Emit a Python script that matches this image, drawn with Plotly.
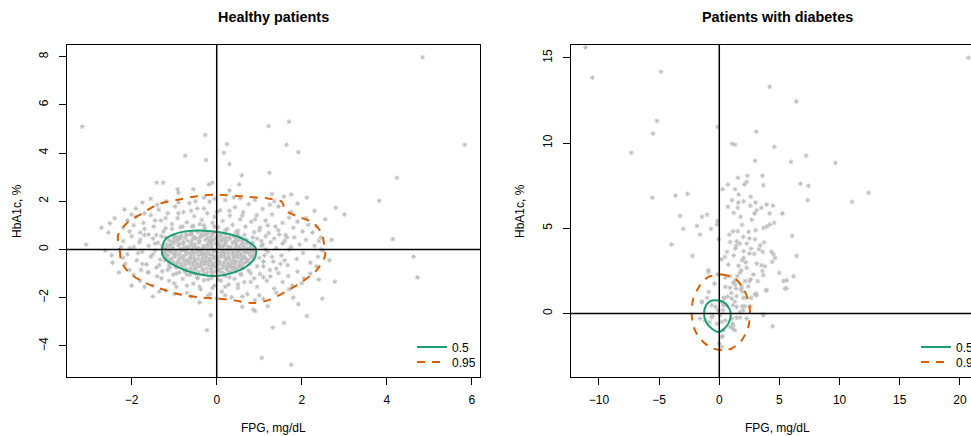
import plotly.graph_objects as go

# ---------------- data ----------------
healthy_points = [
    # outliers
    (4.84, 7.97), (-3.16, 5.09), (1.70, 5.30), (1.22, 5.12), (-0.27, 4.75), (5.83, 4.34),
    (1.64, 4.34), (0.24, 4.37), (1.92, 4.04), (0.17, 4.01), (-0.74, 3.89), (-0.25, 3.71),
    (0.30, 3.54), (1.24, 3.18), (0.59, 3.08), (4.24, 2.97), (-1.41, 2.77), (-1.26, 2.77),
    (0.53, 2.70), (-0.18, 2.70), (-0.10, 2.77), (-0.55, 2.50), (1.75, 2.28), (1.58, 2.19),
    (2.12, 2.15), (3.82, 2.02), (2.80, 1.73), (3.00, 1.45), (-2.17, 1.66), (-2.51, 1.08),
    (-2.71, 0.90), (-3.07, 0.20), (4.14, 0.43), (4.63, -0.30), (4.72, -1.16), (2.78, -1.34),
    (2.48, -2.04), (2.12, -2.76), (1.58, -3.05), (1.32, -3.24), (-0.14, -2.73), (-0.23, -3.35),
    (0.86, -2.49), (1.92, -2.27), (1.06, -4.50), (1.75, -4.78), (-2.47, -0.24),
    # core, first layer
    (-0.72, 0.68), (-0.45, 0.72), (-0.21, 0.66), (-0.05, 0.70), (-0.58, 0.63),
    (-0.95, 0.55), (-0.71, 0.58), (-0.52, 0.51), (-0.33, 0.57), (-0.14, 0.53), (0.06, 0.56), (0.22, 0.49), (-0.85, 0.47),
    (-1.12, 0.38), (-0.90, 0.42), (-0.68, 0.36), (-0.49, 0.44), (-0.27, 0.39), (-0.08, 0.41), (0.12, 0.35), (0.31, 0.43),
    (0.50, 0.37), (-0.60, 0.30), (0.02, 0.30),
    (-1.18, 0.22), (-1.00, 0.27), (-0.79, 0.24), (-0.61, 0.19), (-0.42, 0.28), (-0.22, 0.21), (-0.02, 0.26), (0.18, 0.20),
    (0.37, 0.27), (0.58, 0.22), (0.71, 0.25), (-0.32, 0.15), (0.27, 0.12),
    (-1.22, 0.04), (-1.03, 0.09), (-0.86, 0.02), (-0.67, 0.07), (-0.48, 0.00), (-0.30, 0.08), (-0.12, 0.03), (0.07, 0.06),
    (0.24, -0.01), (0.43, 0.05), (0.62, 0.01), (0.80, 0.07), (-0.95, -0.05), (0.33, 0.10),
    (-1.25, -0.16), (-1.07, -0.12), (-0.88, -0.19), (-0.70, -0.13), (-0.52, -0.18), (-0.35, -0.11), (-0.17, -0.20),
    (0.01, -0.14), (0.19, -0.17), (0.38, -0.10), (0.56, -0.20), (0.74, -0.15), (0.87, -0.22), (-0.60, -0.27),
    (-1.18, -0.36), (-0.99, -0.31), (-0.80, -0.38), (-0.62, -0.33), (-0.43, -0.40), (-0.25, -0.32), (-0.06, -0.37),
    (0.12, -0.30), (0.30, -0.39), (0.49, -0.34), (0.68, -0.38), (0.83, -0.31), (-0.15, -0.45),
    (-1.03, -0.52), (-0.84, -0.58), (-0.66, -0.51), (-0.47, -0.57), (-0.29, -0.53), (-0.10, -0.59), (0.08, -0.52),
    (0.26, -0.56), (0.45, -0.50), (0.64, -0.57), (-0.55, -0.65), (0.15, -0.66),
    (-0.80, -0.74), (-0.61, -0.78), (-0.42, -0.72), (-0.23, -0.79), (-0.04, -0.73), (0.14, -0.77), (0.33, -0.71), (0.47, -0.80),
    (-0.42, -0.93), (-0.22, -0.97), (-0.03, -0.92), (0.16, -0.98), (0.28, -0.90),
    # core, second layer
    (-0.62, 0.62), (-0.37, 0.64), (-0.88, 0.50), (-0.40, 0.50), (-0.03, 0.48), (0.15, 0.46), (-1.05, 0.33), (-0.78, 0.31),
    (-0.17, 0.33), (0.22, 0.30), (0.42, 0.32), (0.62, 0.30), (-1.10, 0.15), (-0.90, 0.17), (-0.70, 0.12), (-0.52, 0.14),
    (-0.12, 0.14), (0.08, 0.16), (0.47, 0.15), (0.64, 0.13), (-1.13, -0.06), (-0.76, -0.04), (-0.57, -0.08), (-0.39, -0.03),
    (-0.21, -0.07), (-0.03, -0.04), (0.15, -0.08), (0.52, -0.06), (0.71, -0.09), (-1.15, -0.25), (-0.97, -0.24),
    (-0.79, -0.28), (-0.42, -0.25), (-0.26, -0.27), (0.09, -0.24), (0.28, -0.28), (0.46, -0.25), (0.65, -0.29),
    (-1.10, -0.45), (-0.90, -0.47), (-0.71, -0.44), (-0.52, -0.46), (-0.34, -0.48), (0.03, -0.46), (0.21, -0.43),
    (0.40, -0.47), (0.58, -0.44), (-0.93, -0.65), (-0.74, -0.63), (-0.37, -0.67), (-0.19, -0.64), (-0.01, -0.69),
    (0.34, -0.63), (0.52, -0.67), (-0.70, -0.86), (-0.51, -0.84), (-0.32, -0.88), (-0.13, -0.85), (0.06, -0.87),
    (0.24, -0.83), (0.40, -0.88),
    # core, third layer
    (-0.83, 0.60), (-0.27, 0.61), (-0.10, 0.63), (0.10, 0.60),
    (-1.00, 0.45), (-0.75, 0.48), (-0.57, 0.43), (-0.22, 0.46), (0.30, 0.50), (0.45, 0.44),
    (-0.95, 0.35), (-0.40, 0.36), (-0.12, 0.37), (0.08, 0.40), (0.21, 0.38), (0.60, 0.38),
    (-1.08, 0.20), (-0.88, 0.23), (-0.52, 0.22), (-0.13, 0.24), (0.05, 0.18), (0.45, 0.24), (0.80, 0.17),
    (-1.17, 0.10), (-0.77, 0.08), (-0.58, 0.05), (-0.21, 0.10), (0.15, 0.10), (0.53, 0.09), (0.72, 0.04), (0.86, -0.02),
    (-1.05, 0.00), (-0.72, -0.01), (-0.35, 0.00), (-0.03, -0.01), (0.33, 0.00), (0.55, -0.02),
    (-1.20, -0.10), (-0.98, -0.14), (-0.62, -0.15), (-0.45, -0.10), (-0.27, -0.15), (-0.09, -0.10), (0.10, -0.12),
    (0.28, -0.14), (0.47, -0.13), (0.65, -0.12), (0.80, -0.10),
    (-1.20, -0.22), (-1.00, -0.20), (-0.72, -0.22), (-0.34, -0.21), (-0.10, -0.25), (0.18, -0.23), (0.37, -0.20),
    (0.57, -0.24), (0.80, -0.26),
    (-1.07, -0.38), (-0.88, -0.35), (-0.52, -0.36), (-0.33, -0.36), (-0.17, -0.38), (0.03, -0.33), (0.21, -0.37),
    (0.40, -0.33), (0.59, -0.37), (0.76, -0.42),
    (-1.12, -0.52), (-0.93, -0.55), (-0.75, -0.50), (-0.56, -0.55), (-0.38, -0.56), (-0.20, -0.52), (-0.02, -0.53),
    (0.17, -0.55), (0.35, -0.52), (0.54, -0.53), (0.70, -0.50),
    (-1.00, -0.62), (-0.83, -0.70), (-0.64, -0.60), (-0.46, -0.70), (-0.28, -0.62), (-0.10, -0.66), (0.06, -0.61),
    (0.25, -0.67), (0.43, -0.60), (0.60, -0.64),
    (-0.72, -0.80), (-0.52, -0.77), (-0.33, -0.80), (-0.14, -0.78), (0.05, -0.80), (0.23, -0.76), (0.42, -0.75), (0.55, -0.72),
    (-0.60, -0.92), (-0.12, -0.95), (0.08, -0.93), (0.33, -0.95), (-0.30, -1.00),
    # core, fourth layer (near the inner contour)
    (-1.00, 0.55), (-0.60, 0.70), (-0.30, 0.75), (0.20, 0.65), (0.40, 0.55), (0.55, 0.48), (0.70, 0.40), (0.85, 0.28),
    (0.90, -0.10), (0.88, -0.40), (0.78, -0.60), (0.60, -0.78), (0.45, -0.92), (0.20, -1.05), (-0.10, -1.05),
    (-0.50, -1.00), (-0.75, -0.92), (-0.95, -0.75), (-1.12, -0.65), (-1.22, -0.45), (-1.28, 0.15), (-1.20, 0.50),
    (-0.44, 0.08), (-0.25, -0.45), (0.00, 0.20), (-0.62, -0.40), (0.35, -0.75), (-0.83, -0.05), (0.50, 0.63), (-0.05, -0.30),
    # between the two contours, first ring
    (-1.45, 0.25), (-1.50, -0.20), (-1.42, 0.60), (-1.35, -0.65), (-1.25, 0.75), (-1.15, -0.85), (-1.05, 0.85),
    (-0.95, -1.00), (-0.80, 0.95), (-0.70, -1.05), (-0.55, 0.98), (-0.45, -1.20), (-0.30, 1.00), (-0.20, -1.25),
    (-0.05, 0.95), (0.10, -1.30), (0.20, 0.80), (0.30, -1.15), (0.45, 0.72), (0.55, -1.02), (0.65, 0.60), (0.75, -0.88),
    (0.85, 0.50), (0.95, -0.70), (1.05, 0.35), (1.10, -0.50), (1.15, 0.00), (1.12, -0.25), (1.08, 0.20),
    # second ring
    (-1.70, 0.85), (-1.80, 0.40), (-1.85, -0.15), (-1.75, -0.60), (-1.60, -0.95), (-1.45, 1.20), (-1.30, -1.20),
    (-1.20, 1.30), (-1.00, -1.40), (-0.90, 1.50), (-0.70, -1.50), (-0.60, 1.60), (-0.40, -1.55), (-0.30, 1.70),
    (-0.10, -1.60), (0.00, 1.55), (0.20, -1.55), (0.30, 1.60), (0.50, -1.45), (0.60, 1.40), (0.80, -1.35), (0.90, 1.25),
    (1.10, -1.15), (1.20, 1.00), (1.40, -0.80), (1.45, 0.80), (1.60, -0.45), (1.65, 0.50), (1.70, 0.00), (1.55, 0.25),
    (1.35, 0.45), (1.30, -0.30), (1.50, -0.60),
    # third ring
    (-2.10, 1.20), (-2.20, 0.90), (-2.25, 0.10), (-2.20, -0.35), (-2.05, -0.85), (-1.70, -1.55), (-1.35, -1.75),
    (-1.00, -1.85), (-0.60, -1.95), (-0.15, -1.85), (0.20, -1.90), (0.60, -1.95), (1.00, -1.90), (1.40, -1.80),
    (1.70, -1.65), (2.00, -1.40), (2.20, -1.00), (2.35, -0.70), (2.45, 0.00), (2.40, 0.35), (2.35, 0.95), (2.10, 1.30),
    (1.75, 1.55), (1.25, 1.85), (0.90, 2.05), (0.40, 2.15), (-0.05, 2.10), (-0.50, 2.00), (-0.90, 1.95), (-1.40, 1.85),
    (-1.70, 1.50), (-2.00, 1.45),
    # between the two contours, upper band
    (-1.90, 1.35), (-1.72, 1.10), (-1.55, 1.42), (-1.48, 0.95), (-1.36, 1.65), (-1.31, 1.20), (-1.20, 0.88), (-1.15, 1.50),
    (-1.05, 1.05), (-0.98, 1.78), (-0.92, 1.30), (-0.85, 0.92), (-0.78, 1.55), (-0.70, 1.12), (-0.64, 1.92), (-0.58, 0.95),
    (-0.53, 1.38), (-0.46, 1.70), (-0.40, 1.05), (-0.35, 1.22), (-0.28, 0.88), (-0.22, 1.50), (-0.17, 1.98), (-0.10, 1.10),
    (-0.05, 1.35), (0.03, 0.92), (0.08, 1.62), (0.14, 1.18), (0.20, 2.05), (0.25, 0.85), (0.31, 1.40), (0.37, 1.02),
    (0.43, 1.75), (0.50, 0.78), (0.55, 1.25), (0.62, 1.55), (0.68, 0.95), (0.75, 1.88), (0.81, 1.15), (0.88, 0.72),
    (0.94, 1.42), (1.02, 0.90), (1.08, 1.68), (1.15, 1.20), (1.22, 0.68), (1.30, 1.45), (1.38, 0.95), (1.45, 1.78),
    (1.55, 1.10), (1.62, 0.60), (1.70, 1.32), (1.80, 0.90), (1.90, 1.15), (2.02, 0.75), (2.15, 1.02), (-2.05, 0.75),
    (-1.80, 0.70), (-1.60, 0.62), (-1.95, 1.00), (-0.30, 2.15), (0.55, 2.12), (-1.20, 2.00), (1.35, 2.00),
    # between the two contours, sides
    (-2.20, 0.35), (-2.10, -0.20), (-2.00, 0.55), (-1.95, 0.10), (-1.88, -0.45), (-1.82, 0.30), (-1.75, -0.10),
    (-1.70, 0.60), (-1.65, -0.62), (-1.60, 0.15), (-1.55, -0.30), (-1.50, 0.45), (-1.45, -0.05), (-1.42, -0.75),
    (-1.38, 0.28), (-1.33, -0.42), (-1.30, 0.55), (-2.15, -0.60), (-1.78, -0.85), (-2.05, 0.05),
    (0.95, 0.45), (1.00, -0.35), (1.05, 0.15), (1.10, -0.70), (1.15, 0.55), (1.20, -0.10), (1.27, 0.30), (1.33, -0.50),
    (1.40, 0.05), (1.47, 0.62), (1.52, -0.25), (1.60, 0.35), (1.67, -0.65), (1.75, 0.10), (1.82, 0.50), (1.88, -0.40),
    (1.95, 0.20), (2.03, -0.15), (2.10, 0.40), (2.20, -0.55), (2.30, 0.15), (2.38, -0.30), (2.45, 0.50), (2.50, -0.05),
    (1.00, 0.80), (1.25, -0.85), (2.25, 0.70),
    # between the two contours, lower band
    (-1.95, -1.05), (-1.80, -1.30), (-1.62, -0.95), (-1.50, -1.50), (-1.40, -1.12), (-1.28, -0.90), (-1.20, -1.70),
    (-1.12, -1.30), (-1.02, -1.05), (-0.95, -1.55), (-0.88, -0.95), (-0.80, -1.22), (-0.70, -1.80), (-0.62, -1.05),
    (-0.55, -1.42), (-0.45, -1.15), (-0.38, -1.65), (-0.30, -1.28), (-0.20, -1.90), (-0.12, -1.18), (-0.05, -1.50),
    (0.05, -1.25), (0.12, -1.75), (0.20, -1.10), (0.28, -1.45), (0.35, -1.98), (0.42, -1.22), (0.50, -1.60),
    (0.58, -1.05), (0.65, -1.35), (0.72, -1.85), (0.80, -0.98), (0.88, -1.20), (0.95, -1.55), (1.02, -1.02),
    (1.10, -2.05), (1.18, -1.30), (1.26, -1.12), (1.35, -1.62), (1.45, -0.98), (1.55, -1.35), (1.68, -1.10),
    (1.78, -1.50), (1.90, -0.92), (2.05, -1.20), (-1.10, -0.75), (0.00, -2.02), (0.90, -2.10),
    # just outside the outer contour
    (-2.55, 0.70), (-2.40, 1.30), (-2.62, -0.05), (-2.45, -0.55), (-2.30, -0.95), (-1.75, 1.95), (-1.55, 2.10),
    (-0.90, 2.35), (0.30, 2.45), (1.30, 2.30), (1.90, 1.90), (2.55, 1.25), (2.70, 0.40), (2.65, -0.45), (2.40, -1.25),
    (1.80, -2.00), (1.20, -2.35), (0.60, -2.38), (-0.40, -2.20), (-1.50, -1.95), (-2.00, -1.50), (-0.92, 2.50),
    (2.30, 1.60), (0.90, -2.55), (-1.90, 1.70),
]

diabetes_points = [
    (-11.11, 15.61), (-10.55, 13.83), (-4.84, 14.18), (20.70, 15.00), (4.19, 13.30), (6.40, 12.44), (-5.18, 11.30),
    (-5.51, 10.56), (-0.14, 10.95), (3.08, 10.66), (1.06, 9.96), (1.31, 9.90), (4.58, 9.78), (-7.31, 9.43),
    (7.21, 9.25), (2.97, 8.96), (5.96, 8.90), (9.65, 8.84), (3.58, 8.08), (2.33, 8.08), (1.56, 7.96), (2.28, 7.72),
    (0.72, 7.57), (2.08, 7.57), (3.66, 7.53), (6.74, 7.61), (7.40, 7.49), (1.31, 7.29), (0.28, 7.29), (12.41, 7.08),
    (-3.63, 6.92), (-2.63, 7.02), (-5.57, 6.79), (1.61, 6.98), (2.61, 6.85), (1.06, 6.65), (7.35, 6.65), (11.04, 6.55),
    (2.03, 6.59), (3.02, 6.51), (1.58, 6.51), (0.72, 6.26), (1.53, 6.20), (3.93, 6.39), (4.46, 6.32), (2.58, 6.32),
    (3.11, 6.06), (2.92, 5.87), (5.25, 5.87), (4.19, 5.87), (1.77, 5.67), (-1.02, 5.80), (-1.44, 5.67), (-3.26, 5.73),
    (-0.14, 5.43), (-0.19, 5.22), (4.55, 5.32), (4.19, 5.22), (3.93, 5.09), (3.66, 5.02), (-1.85, 5.14), (-0.69, 4.97),
    (-2.99, 4.97), (1.14, 4.83), (1.53, 4.83), (2.44, 4.79), (3.02, 4.89), (0.83, 4.63), (-1.60, 4.63), (6.05, 4.56),
    (2.00, 4.50), (-0.05, 4.36), (2.97, 4.36), (1.44, 4.24), (3.72, 4.18), (-3.96, 4.05), (1.39, 3.97), (2.28, 4.10),
    (1.33, 3.81), (2.64, 3.81), (3.30, 3.77), (2.03, 3.66), (3.61, 3.62), (4.33, 3.62), (2.50, 3.52), (0.64, 3.62),
    (4.50, 3.48), (-2.24, 3.38), (6.43, 3.38), (0.47, 3.32), (2.03, 3.26), (4.64, 3.26), (0.17, 3.17), (1.89, 3.13),
    (4.39, 3.03), (3.11, 2.93), (0.75, 2.87), (3.50, 2.83), (3.80, 2.77), (2.28, 2.68), (1.83, 2.54), (3.58, 2.50),
    (-0.91, 2.54), (1.72, 2.40), (4.99, 2.38), (2.83, 2.29), (3.66, 2.25), (6.18, 2.19), (-0.14, 2.29), (1.31, 1.95),
    (2.14, 1.91), (5.35, 1.91), (1.17, 1.81), (1.31, 1.70), (2.50, 1.91), (-0.39, 1.76), (0.50, 1.57), (0.89, 1.51),
    (1.39, 1.47), (5.57, 1.47), (3.88, 1.37), (-0.88, 1.27), (1.94, 1.27), (2.97, 1.11), (3.05, 1.17), (1.42, 1.02),
    (0.39, 0.92), (1.03, 0.88), (2.00, 0.92), (2.22, 0.92), (-1.00, 0.92), (2.64, 0.92), (-1.44, 0.68), (0.25, 0.68),
    (1.14, 0.49), (1.44, 0.39), (1.91, 0.43), (2.14, 0.43), (2.58, 0.43), (1.72, 0.09), (3.66, -0.04), (0.06, -0.10),
    (-0.63, -0.24), (-1.60, -0.29), (1.44, -0.24), (2.28, -0.29), (1.11, -0.59), (0.89, -0.78), (4.44, -0.74),
    (1.11, -0.88), (0.28, -1.33), (0.00, -1.76),
    (-0.91, 2.44), (-0.63, 0.49), (-1.46, 0.68), (-0.55, -0.10), (-1.19, -0.39), (-0.08, 0.19), (0.33, 0.49),
    (0.20, -0.49), (0.33, -0.98), (0.20, -1.37), (0.20, -1.96), (1.03, -0.29), (1.72, -0.24), (1.16, -0.69),
    (1.31, -0.98), (1.86, 1.56), (3.11, 1.07), (3.66, -0.10), (3.94, 1.37), (5.46, 1.47), (5.60, 1.95),
    (0.50, 2.10), (0.90, 2.20), (1.60, 2.80), (2.20, 3.00), (1.00, 1.20), (1.80, 1.40), (2.40, 1.60), (0.60, 0.50),
    (1.30, 0.70), (2.00, 0.20), (0.30, 0.20), (-0.30, 0.40), (-0.80, -0.50), (0.50, -0.40), (0.70, 1.00), (1.50, 2.20),
    (2.60, 2.00), (3.20, 1.90), (2.90, 3.50), (1.20, 3.40), (1.70, 4.10), (2.50, 4.40), (3.40, 4.00), (0.90, 4.20),
    (1.90, 5.20), (2.70, 5.50), (3.50, 6.20), (1.20, 5.90), (0.40, 0.90), (-0.20, -0.60),
]

healthy_fpg = [p[0] for p in healthy_points]
healthy_hba1c = [p[1] for p in healthy_points]
diabetes_fpg = [p[0] for p in diabetes_points]
diabetes_hba1c = [p[1] for p in diabetes_points]

# density contours (0.5 and 0.95 levels)
healthy_c50_fpg = [-1.29, -1.22, -1.02, -0.71, -0.39, -0.02, 0.39, 0.71, 0.92, 0.90, 0.71, 0.39, 0.00, -0.39, -0.79, -1.10, -1.26, -1.29]
healthy_c50_hba1c = [-0.03, 0.39, 0.62, 0.76, 0.79, 0.73, 0.59, 0.36, 0.04, -0.33, -0.69, -0.96, -1.10, -1.04, -0.83, -0.55, -0.28, -0.03]
healthy_c95_fpg = [-2.32, -2.28, -2.24, -2.04, -1.65, -1.26, -0.86, -0.39, -0.02, 0.39, 0.86, 1.25, 1.61, 2.00, 2.35,
                   2.55, 2.52, 2.47, 2.27, 1.88, 1.61, 1.53, 1.18, 0.71, 0.24, -0.04, -0.47, -0.94, -1.37, -1.76, -2.12, -2.32]
healthy_c95_hba1c = [0.59, -0.03, -0.51, -1.00, -1.41, -1.66, -1.87, -1.99, -2.03, -2.11, -2.22, -2.08, -1.76, -1.35, -0.86,
                     -0.24, 0.25, 0.66, 1.10, 1.38, 1.63, 1.98, 2.12, 2.18, 2.25, 2.27, 2.21, 2.05, 1.88, 1.49, 1.08, 0.59]
diabetes_c50_fpg = [-0.36, 0.33, 0.83, 0.95, 0.75, 0.33, -0.08, -0.63, -1.10, -1.27, -1.10, -0.77, -0.36]
diabetes_c50_hba1c = [0.78, 0.68, 0.29, -0.10, -0.59, -0.94, -1.08, -0.88, -0.49, 0.00, 0.49, 0.72, 0.78]
diabetes_c95_fpg = [-0.36, 0.20, 1.31, 2.00, 2.41, 2.55, 2.41, 1.86, 1.03, 0.33, -0.50, -1.33, -2.02, -2.29, -2.16, -1.60, -0.91, -0.36]
diabetes_c95_hba1c = [2.25, 2.29, 2.05, 1.47, 0.78, 0.09, -0.79, -1.57, -2.05, -2.15, -2.05, -1.67, -0.98, -0.10, 0.88, 1.66, 2.15, 2.25]

level_labels = ["0.5", "0.95"]
healthy_xticks = [-2, 0, 2, 4, 6]
healthy_yticks = [-4, -2, 0, 2, 4, 6, 8]
diabetes_xticks = [-10, -5, 0, 5, 10, 15, 20]
diabetes_yticks = [0, 5, 10, 15]

# ---------------- styling ----------------
W, H = 971, 436
GREY = "#BEBEBE"
GREEN = "#1B9E77"
ORANGE = "#D95F02"
FONT = "Liberation Sans, Arial, Helvetica, sans-serif"


def fx(px):
    return px / W


def fy(py):
    return 1 - py / H


fig = go.Figure()

marker = dict(symbol="asterisk", size=4, color=GREY, line=dict(color=GREY, width=1))
fig.add_trace(go.Scatter(x=healthy_fpg, y=healthy_hba1c, mode="markers", marker=marker,
                         xaxis="x", yaxis="y", showlegend=False, hoverinfo="skip"))
fig.add_trace(go.Scatter(x=diabetes_fpg, y=diabetes_hba1c, mode="markers", marker=marker,
                         xaxis="x2", yaxis="y2", showlegend=False, hoverinfo="skip"))

contours = [
    (healthy_c50_fpg, healthy_c50_hba1c, "x", "y", GREEN, "solid", level_labels[0], "legend"),
    (healthy_c95_fpg, healthy_c95_hba1c, "x", "y", ORANGE, "8px,7px", level_labels[1], "legend2"),
    (diabetes_c50_fpg, diabetes_c50_hba1c, "x2", "y2", GREEN, "solid", level_labels[0], "legend3"),
    (diabetes_c95_fpg, diabetes_c95_hba1c, "x2", "y2", ORANGE, "8px,7px", level_labels[1], "legend4"),
]
for cx, cy, xa, ya, col, dash, name, leg in contours:
    fig.add_trace(go.Scatter(x=cx, y=cy, mode="lines", name=name, legend=leg,
                             line=dict(color=col, width=2, dash=dash, shape="spline", smoothing=0.8),
                             xaxis=xa, yaxis=ya, hoverinfo="skip"))

axis_common = dict(showgrid=False, zeroline=False, showline=True, linecolor="black", linewidth=1,
                   ticks="outside", ticklen=7, tickwidth=1, tickcolor="black",
                   tickfont=dict(family=FONT, size=12, color="black"))

top, bottom = 45, 377
fig.update_layout(
    width=W, height=H,
    margin=dict(l=0, r=0, t=0, b=0, autoexpand=False),
    paper_bgcolor="white", plot_bgcolor="white",
    font=dict(family=FONT, size=12, color="black"),
    xaxis=dict(domain=[fx(67), fx(480)], range=[-3.52, 6.19], tickvals=healthy_xticks,
               anchor="y", mirror=True, ticklabelstandoff=5, **axis_common),
    yaxis=dict(domain=[fy(bottom), fy(top)], range=[-5.29, 8.48], tickvals=healthy_yticks,
               anchor="x", mirror=True, tickangle=-90, ticklabelstandoff=6, **axis_common),
    xaxis2=dict(domain=[fx(570.7), 1.0], range=[-12.35, 20.92], tickvals=diabetes_xticks,
                anchor="y2", mirror=True, ticklabelstandoff=5, **axis_common),
    yaxis2=dict(domain=[fy(bottom), fy(top)], range=[-3.72, 15.75], tickvals=diabetes_yticks,
                anchor="x2", mirror=False, tickangle=-90, ticklabelstandoff=6, **axis_common),
)

leg_common = dict(xanchor="left", yanchor="middle", bgcolor="rgba(0,0,0,0)", borderwidth=0,
                  font=dict(family=FONT, size=12, color="black"))
fig.update_layout(
    legend=dict(x=fx(412), y=fy(347), **leg_common),
    legend2=dict(x=fx(412), y=fy(362), **leg_common),
    legend3=dict(x=fx(916), y=fy(347), **leg_common),
    legend4=dict(x=fx(916), y=fy(362), **leg_common),
)

# reference lines at zero (drawn over the points)
for xa, ya in (("x", "y"), ("x2", "y2")):
    fig.add_shape(type="line", xref=xa, yref=ya + " domain", x0=0, x1=0, y0=0, y1=1,
                  line=dict(color="black", width=1.5), layer="above")
    fig.add_shape(type="line", xref=xa + " domain", yref=ya, x0=0, x1=1, y0=0, y1=0,
                  line=dict(color="black", width=1.5), layer="above")

# titles and axis labels
ann = [
    dict(text="<b>Healthy patients</b>", x=fx(273.5), y=fy(17), size=14.4, angle=0),
    dict(text="<b>Patients with diabetes</b>", x=fx(777), y=fy(17), size=14.4, angle=0),
    dict(text="FPG, mg/dL", x=fx(273.5), y=fy(428), size=12, angle=0),
    dict(text="FPG, mg/dL", x=fx(777), y=fy(428), size=12, angle=0),
    dict(text="HbA1c, %", x=fx(17), y=fy(211), size=12, angle=-90),
    dict(text="HbA1c, %", x=fx(520), y=fy(211), size=12, angle=-90),
]
for a in ann:
    fig.add_annotation(text=a["text"], x=a["x"], y=a["y"], xref="paper", yref="paper",
                       xanchor="center", yanchor="middle", showarrow=False, textangle=a["angle"],
                       font=dict(family=FONT, size=a["size"], color="black"))

# the page's default 8px body margin would shift the fixed-size figure
fig.write_html("out.html", config={"displayModeBar": False},
               post_script="document.body.style.margin='0';document.body.style.overflow='hidden';")
